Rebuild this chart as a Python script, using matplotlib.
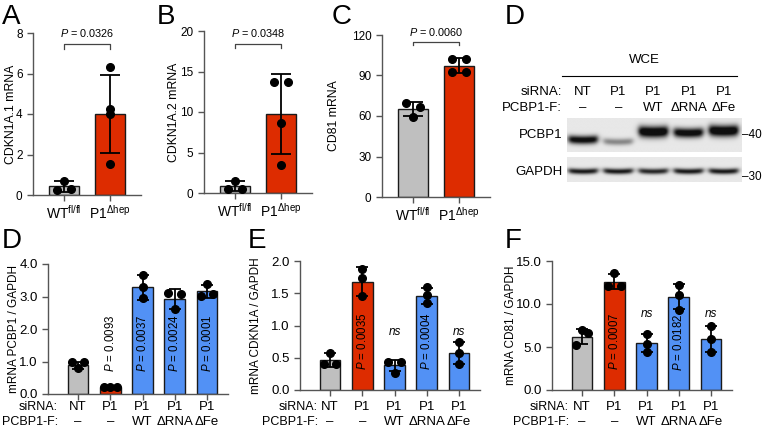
import numpy as np
import matplotlib.pyplot as plt
from matplotlib.transforms import blended_transform_factory

plt.rcParams['font.family'] = ['Liberation Sans', 'DejaVu Sans']
plt.rcParams['mathtext.fontset'] = 'custom'
plt.rcParams['mathtext.rm'] = 'Liberation Sans'
plt.rcParams['mathtext.it'] = 'Liberation Sans:italic'
plt.rcParams['mathtext.default'] = 'regular'
plt.rcParams['font.size'] = 8.5

W, H = 762, 429
GRAY = '#bfbfbf'
RED = '#dd2c00'
BLUE = '#5291f5'
AXC = '#555555'

# ---- top row data (mouse liver) ----
genotypes = ['WT$^{fl/fl}$', 'P1$^{Δhep}$']
a_mean = [0.42, 4.0]
a_sd = [0.28, 1.95]
a_pts = [[0.7, 0.25, 0.3], [6.3, 4.25, 4.0, 1.55]]
b_mean = [0.85, 9.8]
b_sd = [0.62, 4.95]
b_pts = [[1.5, 0.5, 0.55], [13.7, 13.7, 8.6, 3.4]]
c_mean = [65.1, 97.2]
c_sd = [5.0, 5.5]
c_pts = [[69.5, 66.3, 59.6], [102.0, 102.0, 92.4, 92.4]]
top_pvals = ['0.0326', '0.0348', '0.0060']

# ---- bottom row data (siRNA rescue) ----
sirna = ['NT', 'P1', 'P1', 'P1', 'P1']
pcbp1f = ['–', '–', 'WT', 'ΔRNA', 'ΔFe']
d_mean = [0.88, 0.22, 3.28, 2.92, 3.16]
d_sd = [0.12, 0.01, 0.38, 0.30, 0.20]
d_pts = [[1.0, 0.97, 0.80], [0.22, 0.22, 0.22], [3.67, 3.28, 2.95],
         [3.10, 3.08, 2.62], [3.38, 3.08, 3.02]]
d_pvals = ['0.0093', '0.0037', '0.0024', '0.0001']
e_mean = [0.46, 1.68, 0.38, 1.46, 0.58]
e_sd = [0.11, 0.22, 0.09, 0.12, 0.17]
e_pts = [[0.58, 0.40, 0.40], [1.88, 1.74, 1.45], [0.44, 0.44, 0.27],
         [1.59, 1.47, 1.35], [0.75, 0.58, 0.41]]
e_pvals = ['0.0035', 'ns', '0.0004', 'ns']
f_mean = [6.2, 12.6, 5.45, 10.85, 5.97]
f_sd = [0.85, 0.9, 1.05, 1.45, 1.5]
f_pts = [[7.0, 6.6, 5.2], [13.6, 12.1, 12.1], [6.5, 5.4, 4.4],
         [12.2, 11.0, 9.3], [7.5, 5.95, 4.45]]
f_pvals = ['0.0007', 'ns', '0.0182', 'ns']

# western blot band strengths
pcbp1_band = [0.85, 0.35, 1.0, 0.9, 1.0]
gapdh_band = [0.75, 0.75, 0.7, 0.75, 0.75]

# dot offsets (layout only)
a_off = [[0, -0.15, 0.15], [0, 0, 0, 0]]
b_off = [[0, -0.15, 0.15], [-0.15, 0.15, 0, 0]]
c_off = [[-0.15, 0.15, 0], [-0.15, 0.15, -0.15, 0.15]]
d_off = [[-0.2, 0.2, 0], [-0.2, 0, 0.2], [0, 0, 0], [-0.2, 0.2, 0], [0, 0.2, -0.2]]
e_off = [[0, -0.2, 0.2], [0, 0, 0], [-0.2, 0.2, 0], [0, 0, 0], [0, 0, 0]]
f_off = [[0, 0.2, -0.2], [0, -0.2, 0.2], [0, 0, 0], [0, 0, 0], [0, 0, 0]]

fig = plt.figure(figsize=(W / 100, H / 100), dpi=100)


def px_axes(x0, x1, ytop, ybot):
    return fig.add_axes([x0 / W, 1 - ybot / H, (x1 - x0) / W, (ybot - ytop) / H])


def style(ax, ymax, step, fmt, fs):
    for s in ['top', 'right']:
        ax.spines[s].set_visible(False)
    for s in ['left', 'bottom']:
        ax.spines[s].set_color(AXC)
        ax.spines[s].set_linewidth(1.0)
    ax.tick_params(colors=AXC, labelcolor='black', length=4, width=1.0)
    ax.set_ylim(0, ymax)
    ticks = np.arange(0, ymax + step / 2, step)
    ax.set_yticks(ticks)
    ax.set_yticklabels([fmt.format(t) for t in ticks], fontsize=fs)


def bars(ax, means, sds, pts, offs, colors, width, cap):
    x = np.arange(len(means))
    ax.bar(x, means, width=width, color=colors, edgecolor='#1a1a1a', linewidth=1.0, zorder=2)
    ax.errorbar(x, means, yerr=sds, fmt='none', ecolor='black', elinewidth=1.3,
                capsize=cap, capthick=1.3, zorder=3)
    for xi, vals, off in zip(x, pts, offs):
        ax.plot(xi + np.array(off), vals, 'o', color='black', ms=5.5, zorder=4, clip_on=False)


# ---- top panels ----
top = [
    ((33, 141, 33, 195), a_mean, a_sd, a_pts, a_off, 8, 2, 'CDKN1A.1 mRNA', -0.148, (7.45, 7.2, 8.0)),
    ((204, 312, 31, 193), b_mean, b_sd, b_pts, b_off, 20, 5, 'CDKN1A.2 mRNA', -0.225, (18.4, 17.9, 19.75)),
    ((382, 490, 35, 197), c_mean, c_sd, c_pts, c_off, 120, 30, 'CD81 mRNA', -0.39, (114.8, 112.6, 122)),
]
for (rect, m, s, p, o, ymax, step, ylab, lx, br), pv in zip(top, top_pvals):
    ax = px_axes(*rect)
    bars(ax, m, s, p, o, [GRAY, RED], 0.65, 7)
    style(ax, ymax, step, '{:g}', 8.5)
    ax.set_xlim(-0.67, 1.67)
    ax.set_xticks([0, 1])
    ax.set_xticklabels(genotypes, fontsize=10)
    ax.tick_params(axis='x', pad=2)
    ax.set_ylabel(ylab, fontsize=8.8)
    ax.yaxis.set_label_coords(lx, 0.5)
    yb, yt, ytxt = br
    ax.plot([0, 0, 1, 1], [yt, yb, yb, yt], color='#444444', lw=0.9, clip_on=False)
    ax.text(0.5, ytxt, '$\\mathit{P}$ = ' + pv, ha='center', va='center', fontsize=7.8, clip_on=False)

# ---- bottom panels ----
bottom = [
    ((48, 228, 264, 394), d_mean, d_sd, d_pts, d_off, 4, 1, 'mRNA PCBP1 / GAPDH', -0.155, d_pvals, 1.57, None, 58),
    ((300, 480, 261, 390), e_mean, e_sd, e_pts, e_off, 2, 0.5, 'mRNA CDKN1A / GAPDH', -0.21, e_pvals, 0.76, 0.9, 318),
    ((552, 732, 261, 390), f_mean, f_sd, f_pts, f_off, 15, 5, 'mRNA CD81 / GAPDH', -0.194, f_pvals, 5.6, 8.8, 569),
]
colors5 = [GRAY, RED, BLUE, BLUE, BLUE]
for rect, m, s, p, o, ymax, step, ylab, lx, pv, ptxt, nsy, rowx in bottom:
    ax = px_axes(*rect)
    bars(ax, m, s, p, o, colors5, 0.64, 4.5)
    style(ax, ymax, step, '{:.1f}', 9.5)
    ax.set_xlim(-0.93, 4.65)
    ax.set_xticks(range(5))
    ax.set_xticklabels([])
    ax.set_ylabel(ylab, fontsize=8.5)
    ax.yaxis.set_label_coords(lx, 0.5)
    tr = blended_transform_factory(ax.transData, fig.transFigure)
    for i, (a, b) in enumerate(zip(sirna, pcbp1f)):
        ax.text(i, 1 - 407.5 / H, a, transform=tr, ha='center', va='center', fontsize=9.5)
        ax.text(i, 1 - 422 / H, b, transform=tr, ha='center', va='center', fontsize=9.5)
    for i, t in enumerate(pv, start=1):
        if t == 'ns':
            ax.text(i, nsy, 'ns', ha='center', va='center', fontsize=8.5, style='italic')
        else:
            ax.text(i, ptxt, '$\\mathit{P}$ = ' + t, ha='center', va='center', rotation=90, fontsize=8.3)
    fig.text(rowx / W, 1 - 407.5 / H, 'siRNA:', ha='right', va='center', fontsize=9)
    fig.text(rowx / W, 1 - 422 / H, 'PCBP1-F:', ha='right', va='center', fontsize=9)

# ---- western blot panel ----
bx = px_axes(480, 762, 45, 200)
bx.set_xlim(480, 762)
bx.set_ylim(200, 45)
bx.axis('off')
lane_x = 583 + 35.2 * np.arange(5)


def strip(y0, y1, signal, yc, sig):
    x0, x1 = 567, 742
    xs = np.linspace(x0, x1, 500)
    ys = np.linspace(y0, y1, 120)
    X, Y = np.meshgrid(xs, ys)
    img = np.full(X.shape, 0.91)
    for lx, sv, yy, sg in zip(lane_x, signal, yc, sig):
        px = 1 / (1 + np.exp((np.abs(X - lx) - 14.5) / 1.5))
        py = np.exp(-0.5 * ((Y - yy + 0.004 * (X - lx) ** 2) / sg) ** 2)
        img -= 1.1 * sv * px * py
    img = np.clip(img, 0.06, 1)
    bx.imshow(img, cmap='gray', vmin=0, vmax=1, extent=(x0, x1, y1, y0),
              aspect='auto', interpolation='bilinear', zorder=1)


strip(118, 152, pcbp1_band, [140, 142, 132, 133, 131], [3.0, 2.4, 4.0, 3.4, 4.0])
strip(157, 182, gapdh_band, [171.5] * 5, [2.0] * 5)
bx.text(644, 60, 'WCE', ha='center', va='center', fontsize=9.5)
bx.plot([562, 737], [76, 76], color='black', lw=0.8)
bx.text(562, 92, 'siRNA:', ha='right', va='center', fontsize=9.5)
bx.text(562, 108, 'PCBP1-F:', ha='right', va='center', fontsize=9.5)
for lx, a, b in zip(lane_x, sirna, pcbp1f):
    bx.text(lx, 92, a, ha='center', va='center', fontsize=9.5)
    bx.text(lx, 108, b, ha='center', va='center', fontsize=9.5)
bx.text(563, 135, 'PCBP1', ha='right', va='center', fontsize=9.5)
bx.text(563, 172, 'GAPDH', ha='right', va='center', fontsize=9.5)
bx.text(742, 135, '–40', ha='left', va='center', fontsize=8.5)
bx.text(742, 177, '–30', ha='left', va='center', fontsize=8.5)

# ---- panel letters ----
for lab, x, y in [('A', 2, 24), ('B', 157, 24), ('C', 332, 24), ('D', 505, 24),
                  ('D', 2, 248), ('E', 248, 248), ('F', 505, 248)]:
    fig.text(x / W, 1 - y / H, lab, fontsize=20, va='baseline', ha='left')

fig.savefig('out.png', dpi=100)
